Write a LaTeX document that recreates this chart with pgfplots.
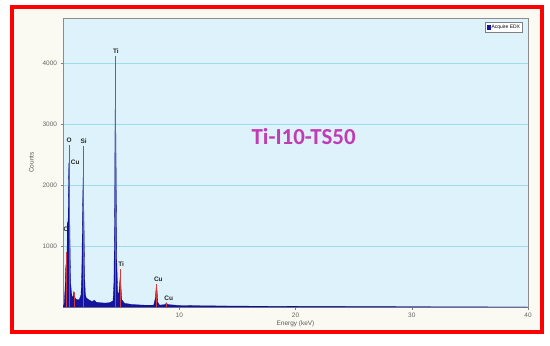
\documentclass[border=0pt]{standalone}
\usepackage{pgfplots}
\pgfplotsset{compat=1.18}
\usepackage{fontspec}
\setmainfont{Liberation Sans}
\newfontfamily\titlefont{Carlito}
\definecolor{bgblue}{HTML}{DDF2FA}
\definecolor{gridc}{HTML}{9FDCEB}
\definecolor{spec}{HTML}{1414A0}
\definecolor{frameface}{HTML}{FAFAF3}
\definecolor{ttl}{HTML}{C13BB4}
\definecolor{peak}{HTML}{D83A3A}
\begin{document}
\begin{tikzpicture}[x=1bp,y=1bp]
\fill[white] (0,0) rectangle (550,345);
\draw[red, line width=3.8bp, fill=frameface] (12,13) rectangle (542,338);
\begin{axis}[
  at={(63bp,38bp)}, anchor=south west,
  scale only axis, width=465bp, height=289bp,
  xmin=0, xmax=40, ymin=0, ymax=4740,
  axis background/.style={fill=bgblue},
  axis line style={draw=black!45, line width=0.8pt},
  xtick={10,20,30,40}, ytick={1000,2000,3000,4000},
  xtick pos=bottom, ytick pos=left,
  tick align=outside, major tick length=2.5bp,
  tick style={black!50},
  ymajorgrids, grid style={gridc, line width=0.8pt},
  ticklabel style={font=\fontsize{6.5}{7}\selectfont, text=black!60},
  /pgf/number format/assume math mode=true,
  /pgf/number format/1000 sep={},
  xlabel={Energy (keV)}, ylabel={Counts},
  label style={font=\fontsize{6.5}{7}\selectfont, text=black!65},
  xlabel style={yshift=4bp},
  ylabel style={yshift=2bp},
  legend style={at={(0.988,0.985)}, anchor=north east, font=\fontsize{5}{6}\selectfont,
     draw=black!50, fill=white, inner sep=1pt, row sep=0pt,
     nodes={inner sep=1.2pt}},
  legend image code/.code={\fill[spec] (0bp,-1.5bp) rectangle (3.5bp,2bp);},
  clip=true,
]
\addplot[fill=spec, draw=spec!80!black, line width=0.3pt] coordinates {
(0,0) (0.1,50) (0.18,300) (0.22,600) (0.26,700) (0.30,550) (0.34,700)
(0.38,1400) (0.42,1000) (0.46,1800) (0.50,2350) (0.54,2380) (0.58,1500)
(0.62,800) (0.66,400) (0.72,250) (0.80,150) (0.88,180) (0.93,250) (0.98,200)
(1.05,140) (1.2,120) (1.4,120) (1.55,200) (1.62,600) (1.68,1600) (1.74,2200)
(1.80,1500) (1.86,500) (1.92,220) (2.0,150) (2.2,120) (2.5,90) (2.7,110)
(2.85,80) (3.2,70) (3.6,65) (4.0,70) (4.3,100) (4.38,400) (4.44,1500)
(4.48,3200) (4.52,3500) (4.56,2500) (4.62,800) (4.70,250) (4.80,200)
(4.88,400) (4.93,520) (4.98,350) (5.05,120) (5.3,60) (6.0,40) (7.0,30)
(7.8,30) (7.95,150) (8.02,340) (8.08,300) (8.15,80) (8.3,30) (8.8,40)
(8.9,70) (9.0,40) (10,25) (12,20) (15,15) (20,10) (25,8) (30,5) (40,0)
} \closedcycle;
\addlegendentry{Acquire EDX}
\addplot[ycomb, forget plot, color=peak, line width=0.45pt, mark=none] coordinates {
(0.277,900) (0.525,2650) (0.93,250) (1.74,2640) (4.51,4120) (4.93,620) (8.04,380) (8.9,70)
};
\begin{scope}[every node/.style={font=\fontsize{6.5}{7}\selectfont\bfseries, text=black!85, inner sep=0.5pt}]
\node[anchor=south] at (axis cs:0.52,2680) {O};
\node[anchor=west] at (axis cs:0.62,2380) {Cu};
\node at (axis cs:0.25,1280) {C};
\node[anchor=south] at (axis cs:1.78,2670) {Si};
\node[anchor=south] at (axis cs:4.55,4150) {Ti};
\node[anchor=south] at (axis cs:5.0,650) {Ti};
\node[anchor=south] at (axis cs:8.2,410) {Cu};
\node[anchor=south] at (axis cs:9.1,100) {Cu};
\end{scope}
\node[font=\titlefont\fontsize{23}{25}\selectfont\bfseries, text=ttl] at (axis cs:20.7,2790) {Ti-I10-TS50};
\end{axis}
\end{tikzpicture}
\end{document}
